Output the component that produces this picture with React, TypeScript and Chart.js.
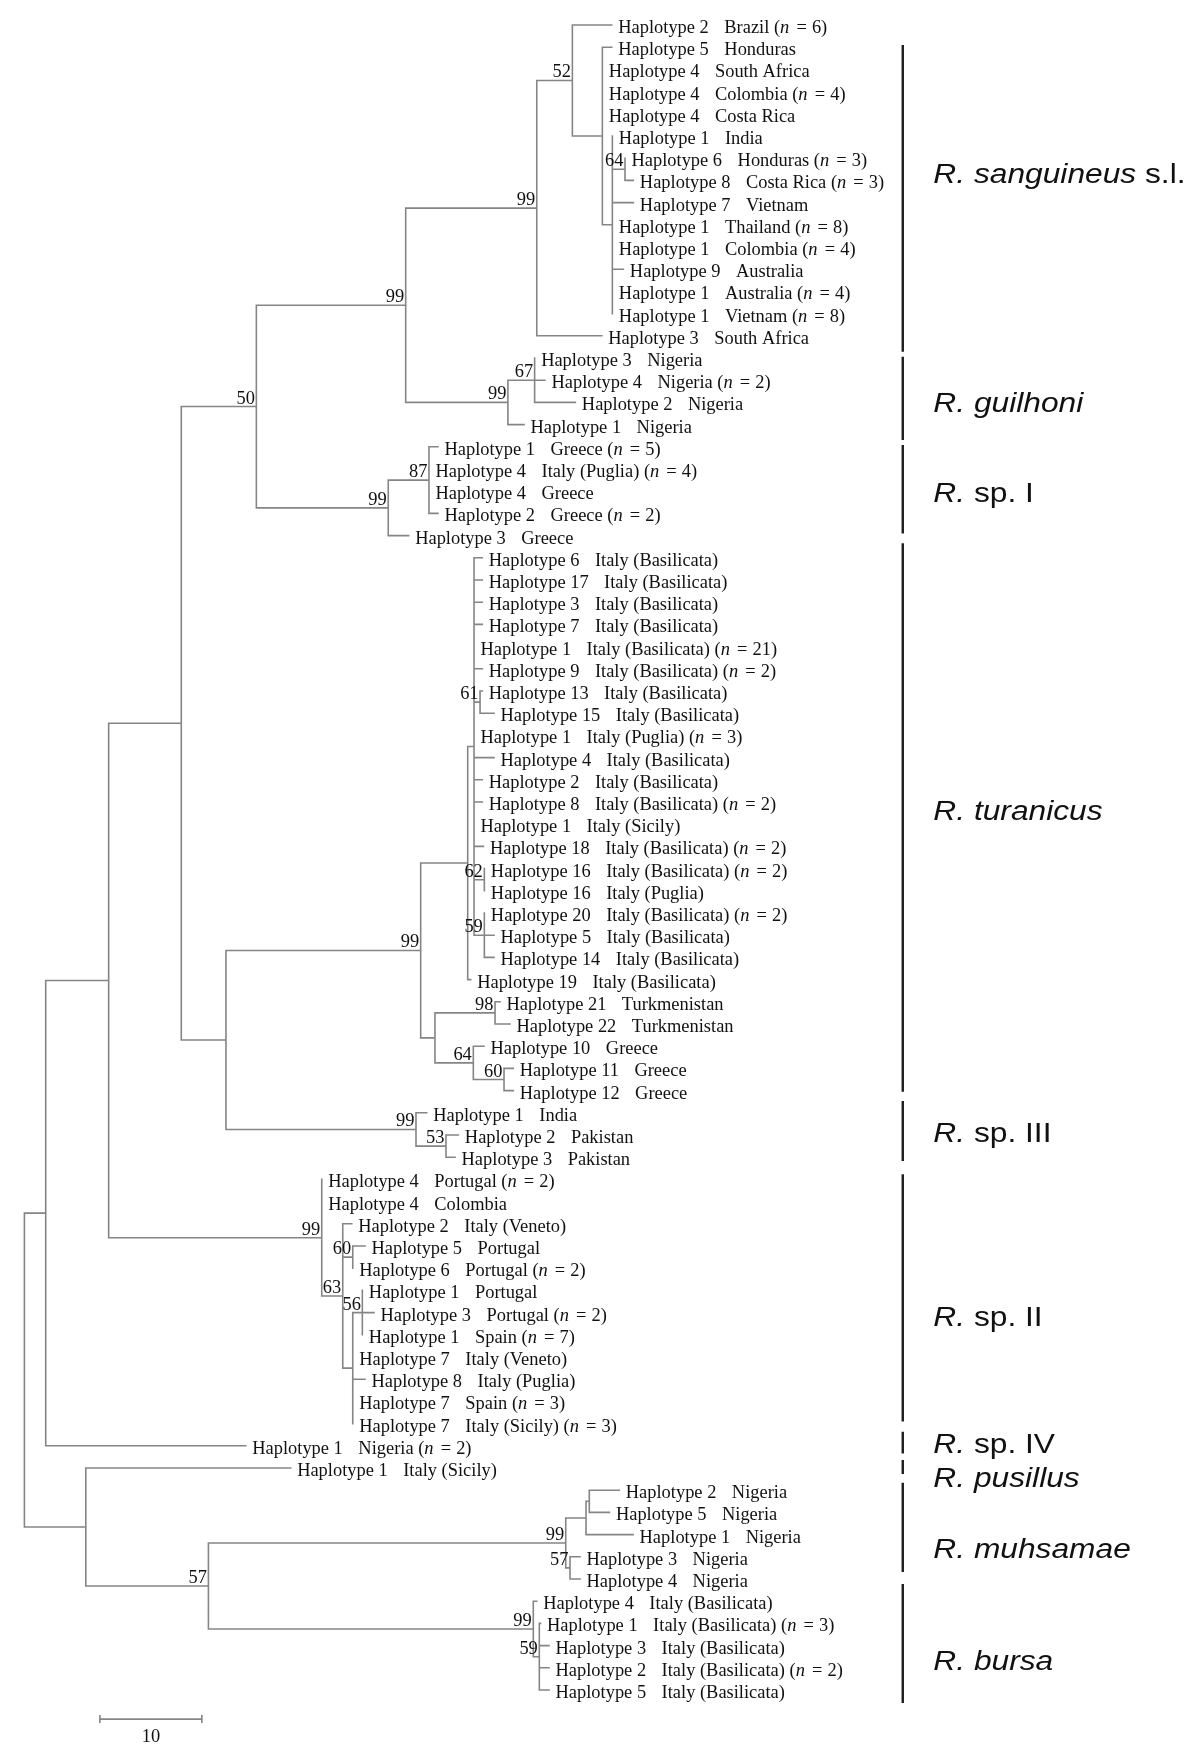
import React, { useEffect, useRef } from "react";
import { Chart, registerables } from "chart.js";

Chart.register(...registerables);

// ---------------- Leaves (top to bottom) ----------------
const leafHaplotypes = [
  2, 5, 4, 4, 4, 1, 6, 8, 7, 1, 1, 9, 1, 1, 3,
  3, 4, 2, 1,
  1, 4, 4, 2, 3,
  6, 17, 3, 7, 1, 9, 13, 15, 1, 4, 2, 8, 1, 18, 16, 16, 20, 5, 14, 19, 21, 22, 10, 11, 12,
  1, 2, 3,
  4, 4, 2, 5, 6, 1, 3, 1, 7, 8, 7, 7,
  1,
  1,
  2, 5, 1, 3, 4,
  4, 1, 3, 2, 5,
];

const IB = "Italy (Basilicata)";
const leafLocations = [
  "Brazil", "Honduras", "South Africa", "Colombia", "Costa Rica", "India", "Honduras", "Costa Rica",
  "Vietnam", "Thailand", "Colombia", "Australia", "Australia", "Vietnam", "South Africa",
  "Nigeria", "Nigeria", "Nigeria", "Nigeria",
  "Greece", "Italy (Puglia)", "Greece", "Greece", "Greece",
  IB, IB, IB, IB, IB, IB, IB, IB, "Italy (Puglia)", IB, IB, IB, "Italy (Sicily)", IB, IB,
  "Italy (Puglia)", IB, IB, IB, IB, "Turkmenistan", "Turkmenistan", "Greece", "Greece", "Greece",
  "India", "Pakistan", "Pakistan",
  "Portugal", "Colombia", "Italy (Veneto)", "Portugal", "Portugal", "Portugal", "Portugal", "Spain",
  "Italy (Veneto)", "Italy (Puglia)", "Spain", "Italy (Sicily)",
  "Nigeria",
  "Italy (Sicily)",
  "Nigeria", "Nigeria", "Nigeria", "Nigeria", "Nigeria",
  IB, IB, IB, IB, IB,
];

const leafCounts: (number | null)[] = [
  6, null, null, 4, null, null, 3, 3, null, 8, 4, null, 4, 8, null,
  null, 2, null, null,
  5, 4, null, 2, null,
  null, null, null, null, 21, 2, null, null, 3, null, null, 2, null, 2, 2, null, 2, null, null, null, null, null, null, null, null,
  null, null, null,
  2, null, null, null, 2, null, 2, 7, null, null, 3, 3,
  2,
  null,
  null, null, null, null, null,
  null, 3, null, 2, null,
];

// distance from the root (substitution units of the scale bar)
const leafDepths = [
  57.58, 57.58, 56.66, 56.66, 56.66, 57.64, 58.88, 59.7, 59.7, 57.64, 57.64, 58.72, 57.64, 57.64, 56.6,
  50.02, 51.03, 54.01, 48.98,
  40.54, 39.66, 39.66, 40.54, 37.67,
  44.89, 44.89, 44.89, 44.89, 44.08, 44.89, 44.89, 46.04, 44.08, 46.04, 44.89, 44.89, 44.08, 45.0, 45.09,
  45.09, 45.09, 46.04, 46.04, 43.75, 46.63, 47.61, 45.06, 47.93, 47.93,
  39.44, 42.54, 42.22,
  29.15, 29.15, 32.09, 33.39, 32.19, 33.13, 34.27, 33.13, 32.19, 33.39, 32.19, 32.19,
  21.7,
  26.1,
  58.32, 57.35, 59.67, 54.47, 54.47,
  50.23, 50.6, 51.43, 51.43, 51.43,
];

// ---------------- Internal nodes ----------------
const nodeIds = [
  "root", "A", "B", "C", "D", "F", "S", "S1", "S2", "S3", "S4", "Gu", "Gu2", "I", "I2", "E", "T", "T1", "P",
  "N61", "N62", "N59", "T2", "Tk", "Gr", "Gr2", "N3", "N53", "II", "N63", "N60", "N2", "N56", "G", "H", "Mu",
  "M1", "M1a", "M2", "Bu", "Bu2",
];
const nodeDepths = [
  0, 2.09, 8.26, 15.38, 22.74, 37.38, 50.23, 53.72, 56.66, 57.64, 58.88, 47.4, 50.02, 35.67, 39.66, 19.76,
  38.85, 43.46, 44.08, 44.67, 45.09, 45.09, 40.25, 46.14, 44.01, 47.02, 38.39, 41.33, 29.15, 31.21, 32.19,
  32.19, 33.13, 6.02, 18.04, 53.07, 55.06, 55.38, 53.49, 49.89, 50.48,
];
const nodeSupport: (number | null)[] = [
  null, null, null, null, 50, 99, 99, 52, null, null, 64, 99, 67, 99, 87, null, 99, null, null, 61, 62, 59,
  null, 98, 64, 60, 99, 53, 99, 63, 60, null, 56, null, 57, 99, null, null, 57, 99, 59,
];
const nodeChildren: (number | string)[][] = [
  ["A", "G"],
  ["B", 65],
  ["C", "II"],
  ["D", "E"],
  ["F", "I"],
  ["S", "Gu"],
  ["S1", 15],
  [1, "S2"],
  [2, 3, 4, 5, "S3"],
  [6, "S4", 9, 10, 11, 12, 13, 14],
  [7, 8],
  ["Gu2", 19],
  [16, 17, 18],
  ["I2", 24],
  [20, 21, 22, 23],
  ["T", "N3"],
  ["T1", "T2"],
  ["P", 44],
  [25, 26, 27, 28, 29, 30, "N61", 33, 34, 35, 36, 37, 38, "N62", "N59"],
  [31, 32],
  [39, 40],
  [41, 42, 43],
  ["Tk", "Gr"],
  [45, 46],
  [47, "Gr2"],
  [48, 49],
  [50, "N53"],
  [51, 52],
  [53, 54, "N63"],
  [55, "N60", "N2"],
  [56, 57],
  ["N56", 61, 62, 63, 64],
  [58, 59, 60],
  [66, "H"],
  ["Mu", "Bu"],
  ["M1", "M2"],
  ["M1a", 69],
  [67, 68],
  [70, 71],
  [72, "Bu2"],
  [73, 74, 75, 76],
];

// ---------------- Clades (right-hand bars) ----------------
const cladeItalic = ["R. sanguineus", "R. guilhoni", "R.", "R. turanicus", "R.", "R.", "R.", "R. pusillus", "R. muhsamae", "R. bursa"];
const cladeRoman = [" s.l.", "", " sp. I", "", " sp. III", " sp. II", " sp. IV", "", "", ""];
const cladeRowStart = [1.9, 15.94, 19.92, 24.35, 49.47, 52.77, 64.37, 65.64, 66.66, 71.23];
const cladeRowEnd = [15.72, 19.69, 23.9, 49.05, 52.17, 63.9, 65.35, 66.27, 70.68, 76.59];
const cladeLabelRow = [8.13, 18.42, 22.47, 36.81, 51.32, 59.62, 65.34, 66.87, 70.07, 75.11];
const cladeBarDepth = 86.11;
const cladeLabelDepth = 89.11;

// ---------------- Scale bar ----------------
const scaleBarStart = 7.4;
const scaleBarLength = 10;
const scaleBarRow = 77.31;
const scaleBarLabel = "10";
const scaleBarLabelRow = 78.33;

// ---------------- helpers ----------------
const nodeIndex = new Map<string, number>(nodeIds.map((id, i) => [id, i]));

function depthOf(ref: number | string): number {
  return typeof ref === "number" ? leafDepths[ref - 1] : nodeDepths[nodeIndex.get(ref) as number];
}
function rowOf(ref: number | string): number {
  if (typeof ref === "number") return ref;
  const ch = nodeChildren[nodeIndex.get(ref) as number];
  return (rowOf(ch[0]) + rowOf(ch[ch.length - 1])) / 2;
}
const gap = () => ({ x: null as any, y: null as any });

function buildTree() {
  const pts: any[] = [];
  nodeIds.forEach((id, i) => {
    const d = nodeDepths[i];
    const ch = nodeChildren[i];
    pts.push({ x: d, y: rowOf(ch[0]) }, { x: d, y: rowOf(ch[ch.length - 1]) }, gap());
    ch.forEach((c) => {
      const dc = depthOf(c);
      if (dc - d > 0.05) pts.push({ x: d, y: rowOf(c) }, { x: dc, y: rowOf(c) }, gap());
    });
  });
  return pts;
}
function buildClades() {
  const pts: any[] = [];
  cladeRowStart.forEach((s, i) => {
    pts.push({ x: cladeBarDepth, y: s }, { x: cladeBarDepth, y: cladeRowEnd[i] }, gap());
  });
  return pts;
}
function buildScaleBar() {
  const e = scaleBarStart + scaleBarLength;
  const t = 0.18;
  return [
    { x: scaleBarStart, y: scaleBarRow }, { x: e, y: scaleBarRow }, gap(),
    { x: scaleBarStart, y: scaleBarRow - t }, { x: scaleBarStart, y: scaleBarRow + t }, gap(),
    { x: e, y: scaleBarRow - t }, { x: e, y: scaleBarRow + t },
  ];
}

const SERIF = '"Liberation Serif", "Times New Roman", Times, serif';
const SANS = '"Liberation Sans", Arial, Helvetica, sans-serif';
const TREE_FONT = `19.5px ${SERIF}`;
const TREE_FONT_I = `italic 19.5px ${SERIF}`;
const TREE_SX = 0.945;
const CLADE_FONT = `27px ${SANS}`;
const CLADE_FONT_I = `italic 27px ${SANS}`;
const CLADE_SX = 1.175;

function put(ctx: CanvasRenderingContext2D, text: string, x: number, y: number, font: string, sx: number) {
  ctx.font = font;
  ctx.save();
  ctx.translate(x, y);
  ctx.scale(sx, 1);
  ctx.fillText(text, 0, 0);
  ctx.restore();
  return ctx.measureText(text).width * sx;
}

const labelPlugin = {
  id: "treeLabels",
  afterDatasetsDraw(chart: any) {
    const ctx: CanvasRenderingContext2D = chart.ctx;
    const xs = chart.scales.x;
    const ys = chart.scales.y;
    ctx.save();
    ctx.fillStyle = "#111111";
    ctx.textBaseline = "alphabetic";
    ctx.textAlign = "left";

    // leaf labels
    leafHaplotypes.forEach((h, i) => {
      const row = i + 1;
      let x = xs.getPixelForValue(leafDepths[i]) + 6.5;
      const y = ys.getPixelForValue(row) + 8;
      x += put(ctx, `Haplotype ${h}`, x, y, TREE_FONT, TREE_SX) + 15.5;
      const n = leafCounts[i];
      if (n === null) {
        put(ctx, leafLocations[i], x, y, TREE_FONT, TREE_SX);
      } else {
        x += put(ctx, `${leafLocations[i]} (`, x, y, TREE_FONT, TREE_SX);
        x += put(ctx, "n", x, y, TREE_FONT_I, TREE_SX) + 2.5;
        x += put(ctx, " = ", x, y, TREE_FONT, TREE_SX) + 0.5;
        put(ctx, `${n})`, x, y, TREE_FONT, TREE_SX);
      }
    });

    // bootstrap values
    ctx.textAlign = "right";
    nodeIds.forEach((id, i) => {
      const s = nodeSupport[i];
      if (s === null) return;
      const x = xs.getPixelForValue(nodeDepths[i]) - 1.5;
      const y = ys.getPixelForValue(rowOf(id)) - 3;
      put(ctx, String(s), x, y, TREE_FONT, TREE_SX);
    });

    // scale bar label
    ctx.textAlign = "center";
    put(ctx, scaleBarLabel, xs.getPixelForValue(scaleBarStart + scaleBarLength / 2), ys.getPixelForValue(scaleBarLabelRow), TREE_FONT, TREE_SX);

    // clade names
    ctx.textAlign = "left";
    ctx.fillStyle = "#111";
    cladeItalic.forEach((it, i) => {
      let x = xs.getPixelForValue(cladeLabelDepth);
      const y = ys.getPixelForValue(cladeLabelRow[i]);
      x += put(ctx, it, x, y, CLADE_FONT_I, CLADE_SX);
      if (cladeRoman[i]) put(ctx, cladeRoman[i], x, y, CLADE_FONT, CLADE_SX);
    });
    ctx.restore();
  },
};

export default function App() {
  const ref = useRef<HTMLCanvasElement>(null);
  useEffect(() => {
    if (!ref.current) return;
    const chart = new Chart(ref.current, {
      type: "line",
      data: {
        datasets: [
          {
            data: buildTree(),
            borderColor: "#858585",
            borderWidth: 1.6,
            pointRadius: 0,
            spanGaps: false,
            tension: 0,
            fill: false,
            borderCapStyle: "square",
            borderJoinStyle: "miter",
          } as any,
          {
            data: buildClades(),
            borderColor: "#1c1c1c",
            borderWidth: 2.4,
            pointRadius: 0,
            spanGaps: false,
            tension: 0,
            fill: false,
            borderCapStyle: "butt",
          } as any,
          {
            data: buildScaleBar(),
            borderColor: "#858585",
            borderWidth: 1.6,
            pointRadius: 0,
            spanGaps: false,
            tension: 0,
            fill: false,
          } as any,
        ],
      },
      options: {
        animation: false,
        responsive: false,
        maintainAspectRatio: false,
        events: [],
        layout: { padding: 0 },
        plugins: { legend: { display: false }, tooltip: { enabled: false }, title: { display: false } },
        scales: {
          x: { type: "linear", display: false, min: -2.392, max: 115.25, bounds: "data" },
          y: { type: "linear", display: false, reverse: true, min: -0.1261, max: 79.243, bounds: "data" },
        },
      } as any,
      plugins: [labelPlugin],
    });
    return () => chart.destroy();
  }, []);
  return (
    <div style={{ position: "absolute", left: 0, top: 0, width: 1200, height: 1762, background: "#fff" }}>
      <canvas ref={ref} width={1200} height={1762} style={{ display: "block", width: 1200, height: 1762 }} />
    </div>
  );
}
